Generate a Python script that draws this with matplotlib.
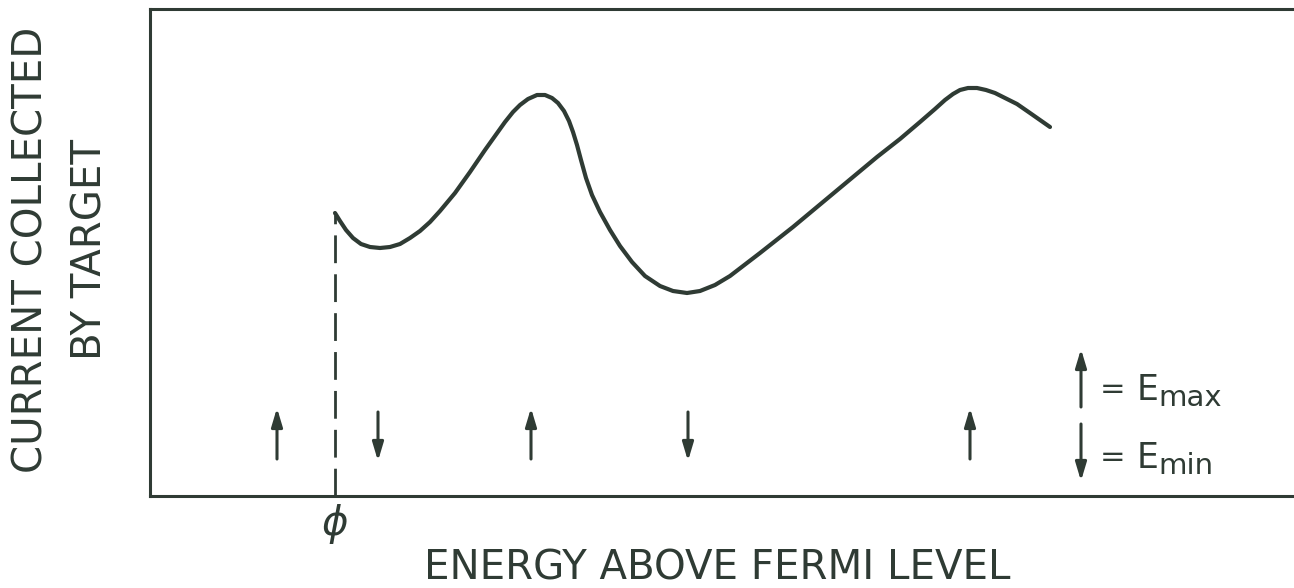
import matplotlib.pyplot as plt

# ---- data (arbitrary units) ----
energy = [1.85, 1.90, 1.96, 2.03, 2.11, 2.20, 2.30, 2.40, 2.50, 2.60, 2.70,
          2.80, 2.90, 3.05, 3.20, 3.35, 3.45, 3.55, 3.63, 3.70, 3.78, 3.87,
          3.95, 4.02, 4.08, 4.14, 4.19, 4.23, 4.27, 4.31, 4.36, 4.42, 4.50,
          4.60, 4.70, 4.82, 4.95, 5.10, 5.23, 5.37, 5.50, 5.65, 5.80, 6.10,
          6.43, 6.85, 7.27, 7.50, 7.70, 7.85, 7.95, 8.03, 8.10, 8.18, 8.27,
          8.36, 8.45, 8.55, 8.67, 8.80, 8.90, 9.00]
current = [2.83, 2.75, 2.66, 2.58, 2.52, 2.49, 2.48, 2.49, 2.52, 2.58, 2.65,
           2.74, 2.85, 3.03, 3.24, 3.46, 3.60, 3.74, 3.84, 3.91, 3.97, 4.01,
           4.01, 3.98, 3.93, 3.85, 3.75, 3.64, 3.51, 3.36, 3.18, 3.01, 2.84,
           2.66, 2.50, 2.34, 2.20, 2.10, 2.05, 2.03, 2.05, 2.11, 2.20, 2.43,
           2.69, 3.04, 3.39, 3.57, 3.74, 3.87, 3.96, 4.02, 4.06, 4.08, 4.08,
           4.06, 4.03, 3.98, 3.92, 3.83, 3.76, 3.69]

emax_pos = [1.27, 3.81, 8.20]
emin_pos = [2.28, 5.38]
phi = energy[0]

ink = '#2f3b34'

fig = plt.figure(figsize=(12.94, 5.88), dpi=100)
# axes run a little past the right edge: the frame has no visible right side
ax = fig.add_axes([150 / 1294, 92 / 588, 1160 / 1294, 487 / 588])
ax.set_xlim(0, 11.60)
ax.set_ylim(0, 4.87)
ax.set_xticks([])
ax.set_yticks([])
ax.spines['right'].set_visible(False)
for s in ('left', 'top', 'bottom'):
    ax.spines[s].set_color(ink)
    ax.spines[s].set_linewidth(2.2)

# curve
ax.plot(energy, current, color=ink, lw=3.0, solid_capstyle='round',
        solid_joinstyle='round')

# dashed line at the work function
ax.plot([phi, phi], [0, current[0] - 0.02], color=ink, lw=2.0,
        linestyle=(0, (10, 4.0)))


def arrow(x, y0, y1):
    ax.annotate('', xy=(x, y1), xytext=(x, y0),
                arrowprops=dict(arrowstyle='-|>,head_length=1.1,head_width=0.33',
                                color=ink, lw=2.2, shrinkA=0, shrinkB=0),
                annotation_clip=False)


for x in emax_pos:
    arrow(x, 0.37, 0.88)
for x in emin_pos:
    arrow(x, 0.84, 0.35)

# key
arrow(9.31, 0.89, 1.47)
arrow(9.31, 0.72, 0.15)
for y, sub in ((0.96, 'max'), (0.28, 'min')):
    ax.text(9.50, y + 0.02, '=', color=ink, fontsize=22, ha='left', va='baseline')
    ax.text(9.87, y, 'E', color=ink, fontsize=25, ha='left', va='baseline')
    ax.text(10.08, y - 0.06, sub, color=ink, fontsize=21, ha='left', va='baseline')

# labels
fig.text(phi / 11.60 * 1160 / 1294 + 150 / 1294, 1 - 524 / 588, '\u03d5',
         color=ink, fontsize=29, ha='center', va='center', style='italic')
fig.text(717 / 1294, 1 - 569 / 588, 'ENERGY ABOVE FERMI LEVEL',
         color=ink, fontsize=29, ha='center', va='center')
fig.text(32 / 1294, 1 - 250 / 588, 'CURRENT COLLECTED', color=ink,
         fontsize=29, rotation=90, ha='center', va='center')
fig.text(91 / 1294, 1 - 250 / 588, 'BY TARGET', color=ink,
         fontsize=29, rotation=90, ha='center', va='center')

fig.savefig('out.png', dpi=100)
